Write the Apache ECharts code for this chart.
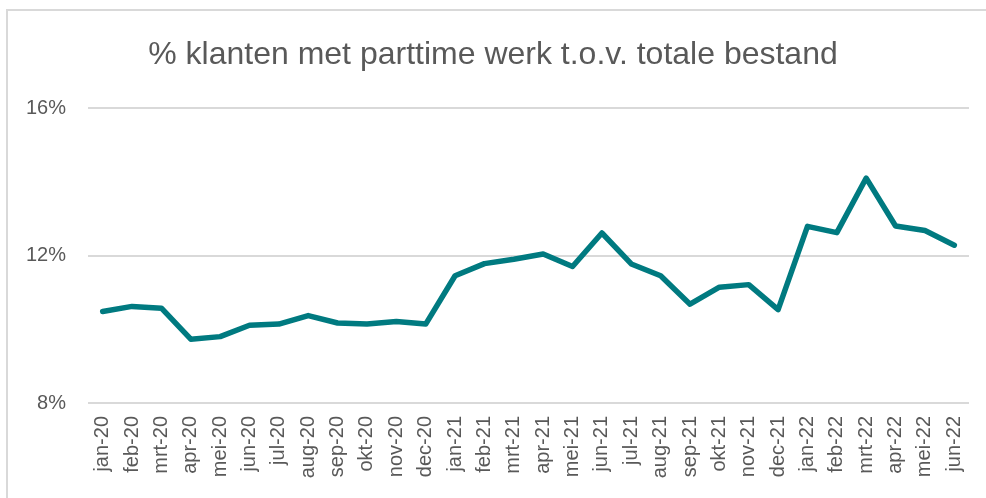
<!DOCTYPE html>
<html>
<head>
<meta charset="utf-8">
<script src="https://cdn.jsdelivr.net/npm/echarts@6/dist/echarts.min.js"></script>
<style>
    html, body {
        margin: 0;
        padding: 0;
        background: #ffffff;
    }

    #chart {
        width: 986px;
        height: 498px;
    }
</style>
</head>
<body>
<div id="chart"></div>
<script>
// maanden (x-as)
const months = [
    'jan-20', 'feb-20', 'mrt-20', 'apr-20', 'mei-20', 'jun-20', 'jul-20', 'aug-20', 'sep-20', 'okt-20', 'nov-20', 'dec-20',
    'jan-21', 'feb-21', 'mrt-21', 'apr-21', 'mei-21', 'jun-21', 'jul-21', 'aug-21', 'sep-21', 'okt-21', 'nov-21', 'dec-21',
    'jan-22', 'feb-22', 'mrt-22', 'apr-22', 'mei-22', 'jun-22'
];

// % klanten met parttime werk
const parttimePct = [
    10.48, 10.62, 10.57, 9.73, 9.80, 10.11, 10.14, 10.37, 10.17, 10.14, 10.21, 10.14,
    11.45, 11.78, 11.90, 12.04, 11.70, 12.61, 11.77, 11.45, 10.68, 11.14, 11.21, 10.53,
    12.79, 12.62, 14.10, 12.80, 12.68, 12.28
];

// y-as
const yMin = 8;
const yMax = 16;
const yStep = 4;

const titleText = '% klanten met parttime werk t.o.v. totale bestand';

const chart = echarts.init(document.getElementById('chart'));

const option = {
    backgroundColor: '#ffffff',
    animation: false,
    title: {
        text: titleText,
        left: 'center',
        top: 34,
        textStyle: {
            fontFamily: 'Liberation Sans',
            fontSize: 32,
            fontWeight: 'normal',
            color: '#595959'
        }
    },
    // grijze rand rond de grafiek
    graphic: [{
        type: 'rect',
        shape: {x: 7, y: 10, width: 1100, height: 1100},
        style: {fill: 'none', stroke: '#d9d9d9', lineWidth: 2},
        silent: true
    }],
    grid: {
        left: 88,
        right: 17,
        top: 108,
        bottom: 95
    },
    xAxis: {
        type: 'category',
        data: months,
        boundaryGap: true,
        axisLine: {show: false},
        axisTick: {show: false},
        axisLabel: {
            rotate: 90,
            interval: 0,
            margin: 13,
            fontFamily: 'Liberation Sans',
            fontSize: 20,
            color: '#595959'
        }
    },
    yAxis: {
        type: 'value',
        min: yMin,
        max: yMax,
        interval: yStep,
        axisLine: {show: false},
        axisTick: {show: false},
        axisLabel: {
            formatter: '{value}%',
            margin: 22,
            fontFamily: 'Liberation Sans',
            fontSize: 20,
            color: '#595959'
        },
        splitLine: {
            lineStyle: {color: '#d9d9d9', width: 2}
        }
    },
    series: [{
        name: titleText,
        type: 'line',
        data: parttimePct,
        symbol: 'none',
        lineStyle: {
            color: '#007a80',
            width: 5.5,
            cap: 'round',
            join: 'round'
        }
    }]
};

chart.setOption(option);
</script>
</body>
</html>
